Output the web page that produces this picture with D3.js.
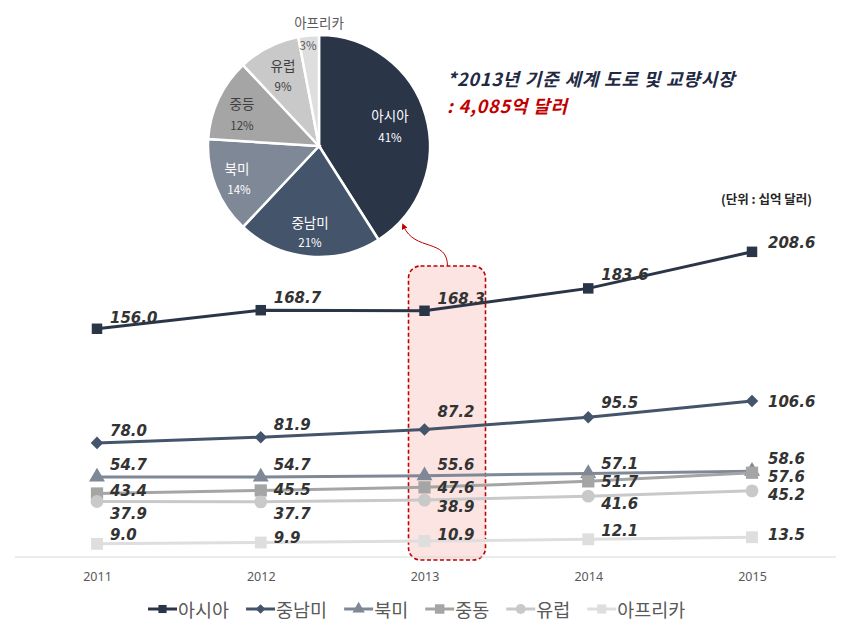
<!DOCTYPE html>
<html><head><meta charset="utf-8">
<script src="https://cdn.jsdelivr.net/npm/d3@7"></script>
<style>body{margin:0;background:#fff}svg{display:block}</style>
</head><body>
<svg id="c" width="852" height="635"></svg>
<script>
// ---- data ----
const years = ["2011","2012","2013","2014","2015"];
const seriesNames = ["아시아","중남미","북미","중동","유럽","아프리카"];
const asia    = [156.0,168.7,168.3,183.6,208.6];
const latam   = [78.0,81.9,87.2,95.5,106.6];
const namerica= [54.7,54.7,55.6,57.1,58.6];
const mideast = [43.4,45.5,47.6,51.7,57.6];
const europe  = [37.9,37.7,38.9,41.6,45.2];
const africa  = [9.0,9.9,10.9,12.1,13.5];
const pieLabels = ["아시아","중남미","북미","중등","유럽","아프리카"];
const pieShares = [41,21,14,12,9,3];
const titleLine1 = "*2013년 기준 세계 도로 및 교량시장";
const titleLine2 = ": 4,085억 달러";
const unitLabel = "(단위 : 십억 달러)";
const highlightYear = "2013";

// ---- style / layout ----
const colors = ["#2b3548","#44546a","#7f8896","#a5a5a5","#c9c9c9","#dedede"];
const markers = ["square","diamond","triangle","square","circle","square"];
const mSizes = [110,70,110,150,130,140];
const labelDy = [
  [-11,-12,-12,-13,-9],
  [-12,-12,-17,-14,1],
  [-12,-12,-11,-9,-12],
  [-3,0,1,1,4],
  [12,12,7,8,4],
  [-9,-5,-6,-8,-2]
];
const allSeries = [asia,latam,namerica,mideast,europe,africa];

const svg = d3.select("#c");
const x = d3.scalePoint().domain(years).range([97,752]);
const y = d3.scaleLinear().domain([0,240]).range([557,557-240*1.463]);
const labelFont = "'DejaVu Sans', Verdana, sans-serif";
const kFont = "'Noto Sans CJK KR', 'Noto Sans', sans-serif";

// highlight box
const hx = x(highlightYear);
svg.append("rect").attr("x",hx-16).attr("y",266).attr("width",77).attr("height",294)
  .attr("rx",12).attr("ry",12).attr("fill","#fbe4e2").attr("stroke","#c00000")
  .attr("stroke-width",1.6).attr("stroke-dasharray","4,2.5");

// baseline
svg.append("line").attr("x1",15).attr("x2",836).attr("y1",y(0)).attr("y2",y(0))
  .attr("stroke","#d9d9d9").attr("stroke-width",1);

// x axis labels
const ax = svg.append("g").attr("transform",`translate(0,${y(0)+10})`)
  .call(d3.axisBottom(x).tickSize(0));
ax.select(".domain").remove();
ax.selectAll("text").attr("font-family","'Noto Sans', sans-serif").attr("font-size",12.5)
  .attr("fill","#595959").attr("dy","0.9em");

function markerPath(type, size){
  if(type==="diamond"){
    const s = Math.sqrt(size)*0.75;
    return `M0,${-s}L${s},0L0,${s}L${-s},0Z`;
  }
  const sym = {square:d3.symbolSquare, triangle:d3.symbolTriangle, circle:d3.symbolCircle}[type];
  return d3.symbol().type(sym).size(size)();
}

const line = d3.line().x((d,i)=>x(years[i])).y(d=>y(d));
allSeries.forEach((vals,si)=>{
  const g = svg.append("g");
  g.append("path").datum(vals).attr("d",line).attr("fill","none")
    .attr("stroke",colors[si]).attr("stroke-width",3);
  g.selectAll("path.m").data(vals).join("path").attr("class","m")
    .attr("d",markerPath(markers[si], mSizes[si]))
    .attr("transform",(d,i)=>`translate(${x(years[i])},${y(d)})`)
    .attr("fill",colors[si]);
});
allSeries.forEach((vals,si)=>{
  svg.append("g").selectAll("text").data(vals).join("text")
    .attr("x",(d,i)=>x(years[i])+(i===4?16:13))
    .attr("y",(d,i)=>y(d)+labelDy[si][i])
    .attr("dominant-baseline","central")
    .attr("font-family",labelFont).attr("font-size",15).attr("font-weight","bold")
    .attr("font-style","italic").attr("fill","#333333")
    .text(d=>d.toFixed(1));
});

// pie
const cx=319, cy=146, R=111;
const pie = d3.pie().sort(null).value(d=>d)(pieShares);
const arc = d3.arc().innerRadius(0).outerRadius(R);
const pg = svg.append("g").attr("transform",`translate(${cx},${cy})`);
pg.selectAll("path").data(pie).join("path").attr("d",arc)
  .attr("fill",(d,i)=>colors[i]).attr("stroke","#fff").attr("stroke-width",2.5);
const pieLabelPos = [[71,-31],[-9,76],[-82,22],[-77,-43],[-36,-81],[0,-124]];
const pctPos = [[71,-9],[-9,96],[-80,43],[-77,-21],[-36,-60],[-11,-101]];
const pieText = ["#fff","#fff","#fff","#404040","#404040","#595959"];
pieLabels.forEach((t,i)=>{
  pg.append("text").attr("x",pieLabelPos[i][0]).attr("y",pieLabelPos[i][1])
    .attr("text-anchor","middle").attr("dominant-baseline","central")
    .attr("font-family",kFont).attr("font-size",13.5).attr("fill",pieText[i]).text(t);
  pg.append("text").attr("x",pctPos[i][0]).attr("y",pctPos[i][1])
    .attr("text-anchor","middle").attr("dominant-baseline","central")
    .attr("font-family",kFont).attr("font-size",11.5).attr("fill",pieText[i]).text(pieShares[i]+"%");
});

// arrow
const defs = svg.append("defs");
defs.append("marker").attr("id","ah").attr("viewBox","0 0 10 10").attr("refX",5).attr("refY",5)
  .attr("markerWidth",6).attr("markerHeight",6).attr("orient","auto-start-reverse")
  .append("path").attr("d","M0,0 L10,5 L0,10 z").attr("fill","#c00000");
svg.append("path").attr("d",`M${hx+23},266 C${hx+23},238 ${hx-10},252 ${hx-21},226`)
  .attr("fill","none").attr("stroke","#c00000").attr("stroke-width",1)
  .attr("marker-end","url(#ah)");

// titles
svg.append("text").attr("x",447).attr("y",86).attr("font-family",kFont).attr("font-size",18)
  .attr("font-weight","bold").attr("font-style","italic").attr("fill","#1f2a44")
  .attr("letter-spacing",0.8).text(titleLine1);
svg.append("text").attr("x",447).attr("y",113).attr("font-family",kFont).attr("font-size",18)
  .attr("font-weight","bold").attr("font-style","italic").attr("fill","#c00000")
  .attr("letter-spacing",0.8).text(titleLine2);
svg.append("text").attr("x",812).attr("y",204).attr("text-anchor","end").attr("font-family",kFont)
  .attr("font-size",12.5).attr("font-weight","bold").attr("fill","#262626").text(unitLabel);

// legend
const lg = svg.append("g").attr("transform","translate(0,609)");
let lx = 148;
seriesNames.forEach((n,i)=>{
  const g = lg.append("g").attr("transform",`translate(${lx},0)`);
  g.append("line").attr("x1",0).attr("x2",29).attr("stroke",colors[i]).attr("stroke-width",3);
  g.append("path").attr("d",markerPath(markers[i], mSizes[i]*0.6))
    .attr("transform","translate(14.5,0)").attr("fill",colors[i]);
  const t = g.append("text").attr("x",30).attr("dominant-baseline","central")
    .attr("font-family",kFont).attr("font-size",18.5).attr("fill","#595959").text(n);
  lx += 30 + t.node().getComputedTextLength() + 17;
});
</script>
</body></html>
